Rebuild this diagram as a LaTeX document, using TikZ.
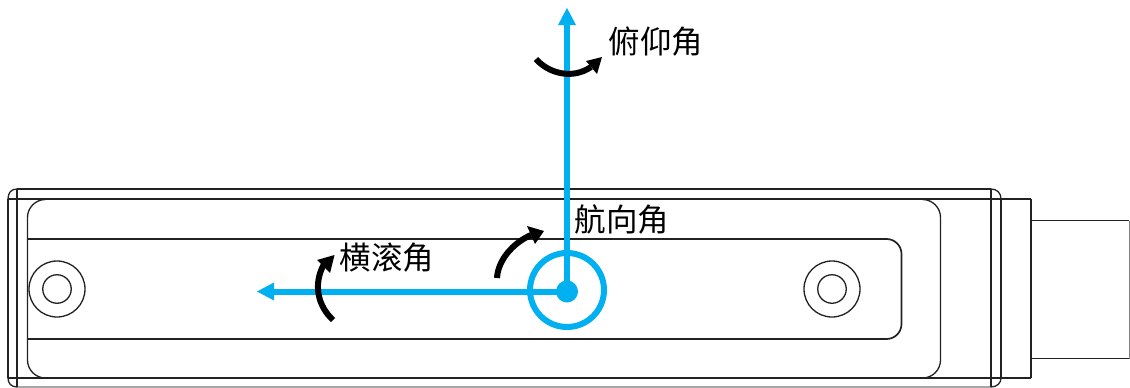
\documentclass[tikz,border=0pt]{standalone}
\usepackage{fontspec}
\newfontfamily\cjk{Noto Sans CJK SC}
\definecolor{axisblue}{HTML}{00B0F0}
\definecolor{lineink}{HTML}{222222}
\tikzset{
  part/.style={draw=lineink,line width=1.7pt},
  partthin/.style={draw=lineink,line width=1.3pt},
  axisline/.style={draw=axisblue,line width=6pt},
  turn/.style={draw=black,line width=6pt},
  tipblue/.style={fill=axisblue,draw=none},
  tipblack/.style={fill=black,draw=none},
  lab/.style={font=\cjk\fontsize{31.5pt}{33pt}\selectfont,text=black,inner sep=0pt}
}
\begin{document}
\begin{tikzpicture}[x=1pt,y=-1pt]
\useasboundingbox (0,0) rectangle (1130,388);
\fill[white] (0,0) rectangle (1130,388);
% body
\draw[part] (17,189) -- (991,189);
\draw[part] (8,199) -- (1031,199);
\draw[part] (8,378) -- (1031,378);
\draw[part,draw=gray!70] (17,387) -- (991,387);
\draw[part] (8,199) -- (8,378);
\draw[part] (17,189) -- (17,387);
\draw[part] (991,189) -- (991,387);
\draw[part] (1001,199) -- (1001,378);
\draw[part] (1031,199) -- (1031,378);
\draw[partthin] (17,189) .. controls (11,189) and (8,193) .. (8,199);
\draw[partthin] (8,378) .. controls (8,383) and (11,387) .. (17,387);
\draw[partthin] (991,189) .. controls (997,189) and (1001,193) .. (1001,199);
\draw[partthin] (1001,378) .. controls (1001,383) and (997,387) .. (991,387);
% connector
\draw[part] (1031,220.5) -- (1129,220.5);
\draw[part] (1031,358.5) -- (1129,358.5);
\draw[part,draw=gray] (1129.5,220.5) -- (1129.5,358.5);
% inner recess
\draw[partthin,rounded corners=18pt] (45,199.5) -- (27.5,199.5) -- (27.5,378) -- (45,378);
\draw[partthin,rounded corners=18pt] (923,199.5) -- (940.5,199.5) -- (940.5,378) -- (923,378);
\draw[part,rounded corners=15pt] (27.5,239) -- (901.5,239) -- (901.5,339) -- (27.5,339);
% holes
\node[partthin,circle,minimum size=56pt,inner sep=0pt] (holeLa) at (57,289) {};
\node[partthin,circle,minimum size=28.5pt,inner sep=0pt] (holeLb) at (57,289) {};
\node[partthin,circle,minimum size=56pt,inner sep=0pt] (holeRa) at (832,289) {};
\node[partthin,circle,minimum size=28.5pt,inner sep=0pt] (holeRb) at (832,289) {};
% axes
\coordinate (upEnd) at (567,24);
\coordinate (leftEnd) at (273,291.5);
\node[circle,draw=axisblue,line width=6pt,minimum size=74pt,inner sep=0pt] (ring) at (567,290) {};
\node[circle,fill=axisblue,minimum size=22pt,inner sep=0pt] (hub) at (567,291.5) {};
\draw[axisline] (hub.center) -- (upEnd);
\draw[axisline] (hub.center) -- (leftEnd);
\fill[tipblue] (567,8) -- (576,25) -- (558,25) -- cycle;
\fill[tipblue] (257,291.5) -- (274,282.5) -- (274,300.5) -- cycle;
% rotation arrows
\coordinate (yawS) at (497,278);
\coordinate (yawE) at (531,235);
\coordinate (rollS) at (333,320);
\coordinate (rollE) at (323.5,265);
\coordinate (pitchS) at (536,59);
\coordinate (pitchE) at (591,67);
\draw[turn] (yawS) .. controls (498,260) and (513,243) .. (yawE);
\fill[tipblack] (544,231) -- (527,226) -- (535,244) -- cycle;
\draw[turn] (rollS) .. controls (318,306) and (313,285) .. (rollE);
\fill[tipblack] (334.5,255) -- (317,260) -- (330,273) -- cycle;
\draw[turn] (pitchS) .. controls (548,73) and (572,80) .. (pitchE);
\fill[tipblack] (602,57) -- (586,61) -- (597,74) -- cycle;
% labels
\node[lab] (pitchLab) at (656,42) {俯仰角};
\node[lab] (yawLab) at (622,219) {航向角};
\node[lab] (rollLab) at (387,258) {横滚角};
\end{tikzpicture}
\end{document}
